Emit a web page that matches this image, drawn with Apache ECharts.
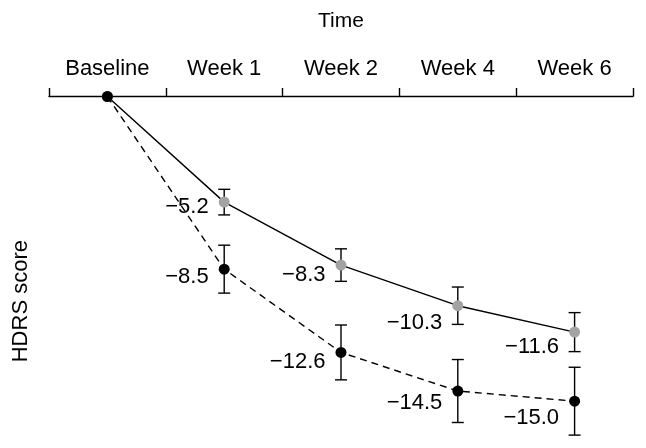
<!DOCTYPE html>
<html>
<head>
<meta charset="utf-8">
<script src="https://cdn.jsdelivr.net/npm/echarts@6/dist/echarts.min.js"></script>
<style>html,body{margin:0;padding:0;background:#fff}#c{width:646px;height:448px}</style>
</head>
<body>
<div id="c"></div>
<script>
const categories = ['Baseline', 'Week 1', 'Week 2', 'Week 4', 'Week 6'];
const groupA = [0, -5.2, -8.3, -10.3, -11.6];   // solid line, grey markers
const groupB = [0, -8.5, -12.6, -14.5, -15.0];  // dashed line, black markers
const errA = [0, 0.63, 0.80, 0.92, 0.96];
const errB = [0, 1.18, 1.35, 1.55, 1.67];

// label vertical nudges (layout only)
const labelDyA = [0, 5, 10, 17, 15];
const labelDyB = [0, 8, 10, 12, 17];

const FONT = "'Liberation Sans', Arial, Helvetica, sans-serif";
const fmt = v => '\u2212' + Math.abs(v).toFixed(1);

function lineData(vals, dys) {
  return vals.map((v, i) => ({
    value: v,
    label: i === 0 ? { show: false } : {
      show: true, position: 'left', distance: 10, offset: [0, dys[i]]
    }
  }));
}

function errData(vals, errs) {
  const out = [];
  vals.forEach((v, i) => { if (errs[i] > 0) out.push([i, v - errs[i], v + errs[i]]); });
  return out;
}

function errRender(params, api) {
  const x = api.value(0);
  const lo = api.coord([x, api.value(1)]);
  const hi = api.coord([x, api.value(2)]);
  const w = 6;
  const st = { stroke: '#000', lineWidth: 1.4, fill: null };
  return {
    type: 'group',
    children: [
      { type: 'line', shape: { x1: lo[0], y1: lo[1], x2: hi[0], y2: hi[1] }, style: st },
      { type: 'line', shape: { x1: lo[0] - w, y1: lo[1], x2: lo[0] + w, y2: lo[1] }, style: st },
      { type: 'line', shape: { x1: hi[0] - w, y1: hi[1], x2: hi[0] + w, y2: hi[1] }, style: st }
    ]
  };
}

const chart = echarts.init(document.getElementById('c'), null, { renderer: 'canvas' });
chart.setOption({
  animation: false,
  backgroundColor: '#fff',
  textStyle: { fontFamily: FONT },
  grid: { left: 49, right: 13, top: 96.5, height: 345.3 },
  xAxis: {
    type: 'category',
    position: 'top',
    data: categories,
    boundaryGap: true,
    name: 'Time',
    nameLocation: 'middle',
    nameGap: 65,
    nameTextStyle: { fontSize: 21, color: '#000', fontFamily: FONT },
    axisLine: { lineStyle: { color: '#000', width: 1.4 } },
    axisTick: { show: true, length: 8.5, lineStyle: { color: '#000', width: 1.4 } },
    axisLabel: { fontSize: 22, color: '#000', margin: 17, fontFamily: FONT },
    splitLine: { show: false }
  },
  yAxis: {
    type: 'value',
    min: -17,
    max: 0,
    name: 'HDRS score',
    nameLocation: 'middle',
    nameGap: 17,
    nameTextStyle: { fontSize: 22, color: '#000', fontFamily: FONT, padding: [0, 64, 0, 0] },
    axisLine: { show: false },
    axisTick: { show: false },
    axisLabel: { show: false },
    splitLine: { show: false }
  },
  series: [
    {
      type: 'custom', z: 1, renderItem: errRender, data: errData(groupA, errA),
      encode: { x: 0, y: [1, 2] }, silent: true
    },
    {
      type: 'custom', z: 1, renderItem: errRender, data: errData(groupB, errB),
      encode: { x: 0, y: [1, 2] }, silent: true
    },
    {
      type: 'line', z: 3, data: lineData(groupA, labelDyA),
      symbol: 'circle', symbolSize: 11,
      itemStyle: { color: '#a3a3a3' },
      lineStyle: { color: '#000', width: 1.4, type: 'solid' },
      label: { color: '#000', fontSize: 22, fontFamily: FONT, formatter: p => fmt(p.value) }
    },
    {
      type: 'line', z: 4, data: lineData(groupB, labelDyB),
      symbol: 'circle', symbolSize: 11,
      itemStyle: { color: '#000' },
      lineStyle: { color: '#000', width: 1.4, type: [7, 5] },
      label: { color: '#000', fontSize: 22, fontFamily: FONT, formatter: p => fmt(p.value) }
    }
  ]
});
</script>
</body>
</html>
